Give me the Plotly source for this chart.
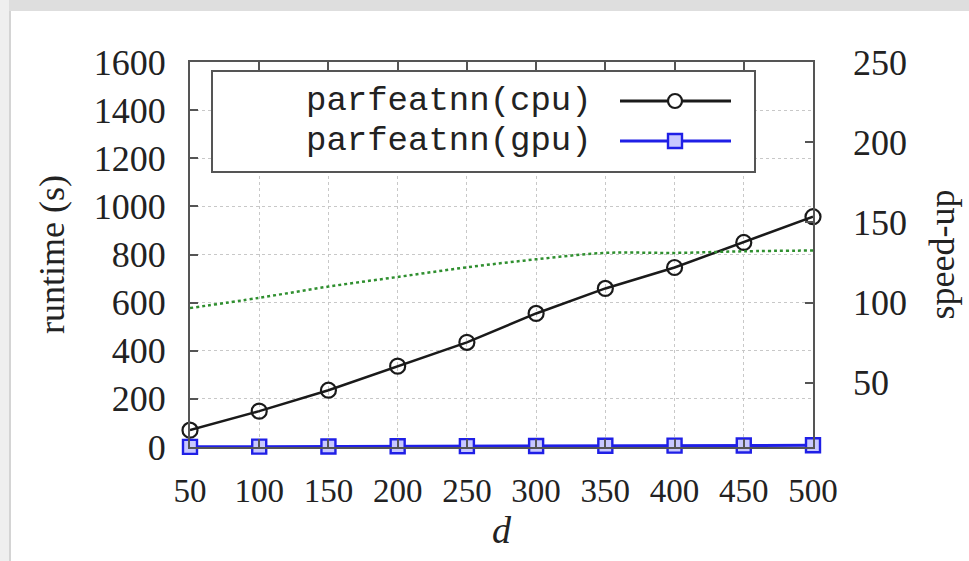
import plotly.graph_objects as go

# ---- data ----
d_values = [50, 100, 150, 200, 250, 300, 350, 400, 450, 500]
cpu_runtime = [70, 149, 236, 336, 435, 555, 659, 746, 850, 957]
gpu_runtime = [0.7, 1.4, 2.1, 2.9, 3.6, 4.4, 5.0, 5.7, 6.4, 7.2]
speed_up = [96.6, 103, 110, 116, 122, 127, 131, 131, 132, 132.5]
left_ticks = [0, 200, 400, 600, 800, 1000, 1200, 1400, 1600]
right_ticks = [50, 100, 150, 200, 250]
legend_names = ["parfeatnn(cpu)", "parfeatnn(gpu)"]

W, H = 969, 561
L, R, T, B = 190, 156, 62, 114
PW, PH = W - L - R, H - T - B


def px(x):
    return (x - L) / PW


def py(y):
    return (H - B - y) / PH


SERIF = "Liberation Serif"
MONO = "Liberation Mono"
AX = "#555555"
GRID = "#c8c8c8"
BLACK = "#1a1a1a"
BLUE = "#1f1fe6"
GREEN = "#2f8f2f"
TXT = "#222222"

fig = go.Figure()

fig.add_trace(go.Scatter(
    x=d_values, y=speed_up, yaxis="y2", mode="lines", name="speed-up",
    line=dict(color=GREEN, width=2.5, dash="dot", shape="spline"),
    cliponaxis=False, showlegend=False))

fig.add_trace(go.Scatter(
    x=d_values, y=cpu_runtime, mode="lines+markers", name=legend_names[0],
    line=dict(color=BLACK, width=2.5),
    marker=dict(symbol="circle-open", size=15, color=BLACK, line=dict(width=2.2, color=BLACK)),
    cliponaxis=False, showlegend=False))

fig.add_trace(go.Scatter(
    x=d_values, y=gpu_runtime, mode="lines+markers", name=legend_names[1],
    line=dict(color=BLUE, width=3),
    marker=dict(symbol="square", size=14, color="#c8c8ff", line=dict(width=2.4, color=BLUE)),
    cliponaxis=False, showlegend=False))

shapes = []
annotations = []

# page frame (light gray strips on top and left)
shapes.append(dict(type="rect", xref="paper", yref="paper", x0=px(0), x1=px(W), y0=py(11), y1=py(0),
                   fillcolor="#dedede", line=dict(width=0), layer="below"))
shapes.append(dict(type="rect", xref="paper", yref="paper", x0=px(0), x1=px(9), y0=py(H), y1=py(0),
                   fillcolor="#efefef", line=dict(width=0), layer="below"))
shapes.append(dict(type="line", xref="paper", yref="paper", x0=px(10), x1=px(10), y0=py(H), y1=py(11),
                   line=dict(color="#d4d4d4", width=2), layer="below"))

# legend box
shapes.append(dict(type="rect", xref="paper", yref="paper", x0=px(212), x1=px(755), y0=py(172), y1=py(71),
                   fillcolor="white", line=dict(color=AX, width=2), layer="above"))
legend_y = [101, 141]
legend_col = [BLACK, BLUE]
for i, name in enumerate(legend_names):
    yy = py(legend_y[i])
    annotations.append(dict(xref="paper", yref="paper", x=px(594), y=yy, text=name, showarrow=False,
                            xanchor="right", yanchor="middle", font=dict(family=MONO, size=34, color=TXT)))
    shapes.append(dict(type="line", xref="paper", yref="paper", x0=px(620), x1=px(731), y0=yy, y1=yy,
                       line=dict(color=legend_col[i], width=2.8 if i == 0 else 3), layer="above"))
# legend sample markers
shapes.append(dict(type="circle", xref="paper", yref="paper", x0=px(668), x1=px(682),
                   y0=py(108), y1=py(94), fillcolor="white", line=dict(color=BLACK, width=2.2), layer="above"))
shapes.append(dict(type="rect", xref="paper", yref="paper", x0=px(668), x1=px(682),
                   y0=py(148), y1=py(134), fillcolor="#c8c8ff", line=dict(color=BLUE, width=2.4), layer="above"))

fig.update_layout(
    width=W, height=H,
    margin=dict(l=L, r=R, t=T, b=B, autoexpand=False),
    paper_bgcolor="white", plot_bgcolor="white",
    showlegend=False,
    font=dict(family=SERIF, size=34, color=TXT),
    xaxis=dict(
        range=[50, 500], tickvals=d_values, ticktext=[str(v) for v in d_values],
        ticks="inside", ticklen=8, tickwidth=1.5, tickcolor=AX,
        showline=True, linecolor=AX, linewidth=2, mirror="ticks",
        showgrid=True, gridcolor=GRID, griddash="dot", gridwidth=1,
        zeroline=False, ticklabelstandoff=13, automargin=False,
        tickfont=dict(family=SERIF, size=33, color=TXT),
        title=dict(text="<i>d</i>", font=dict(family=SERIF, size=38, color=TXT), standoff=7),
    ),
    yaxis=dict(
        range=[0, 1600], tickvals=left_ticks,
        ticks="inside", ticklen=8, tickwidth=1.5, tickcolor=AX,
        showline=True, linecolor=AX, linewidth=2, mirror=True,
        showgrid=True, gridcolor=GRID, griddash="dot", gridwidth=1,
        zeroline=False, ticklabelstandoff=15, automargin=False,
        tickfont=dict(family=SERIF, size=36, color=TXT),
        title=dict(text="runtime (s)", font=dict(family=SERIF, size=36, color=TXT), standoff=18),
    ),
    yaxis2=dict(
        overlaying="y", side="right", range=[10, 250], tickvals=right_ticks,
        ticks="inside", ticklen=8, tickwidth=1.5, tickcolor=AX,
        showline=False, showgrid=False, zeroline=False, ticklabelstandoff=39, automargin=False,
        tickfont=dict(family=SERIF, size=36, color=TXT),
        title=dict(text="speed-up", font=dict(family=SERIF, size=36, color=TXT), standoff=22),
    ),
    shapes=shapes,
    annotations=annotations,
)

fig.write_html("out.html", config={"displayModeBar": False},
               post_script="document.body.style.margin='0';document.body.style.overflow='hidden';")
